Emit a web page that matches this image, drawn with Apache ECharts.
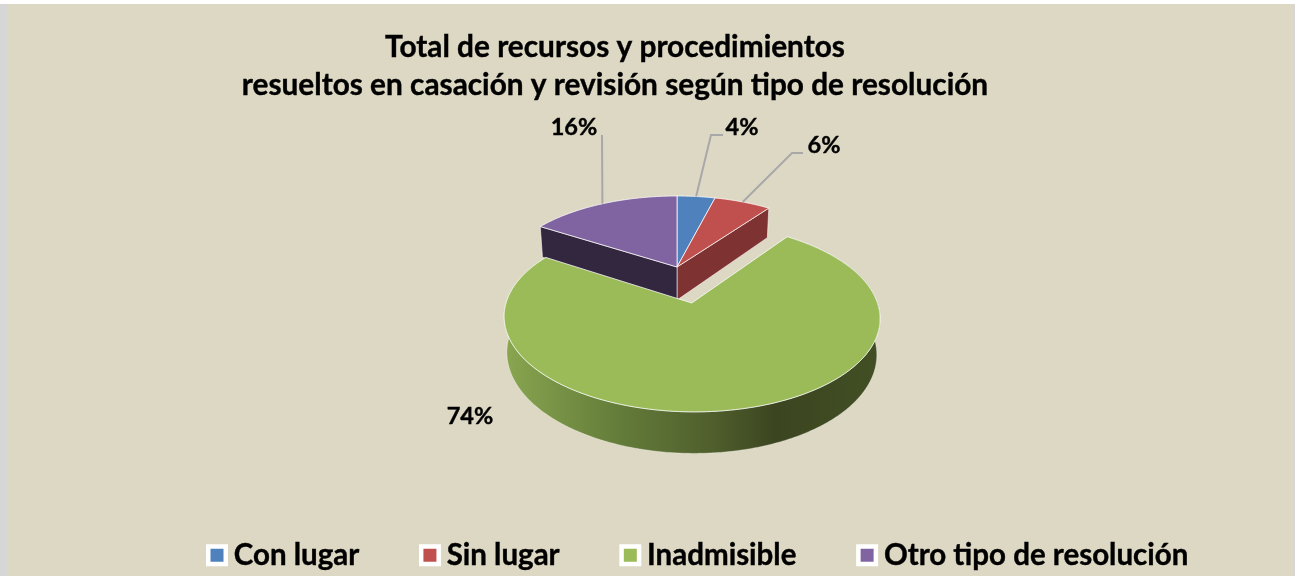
<!DOCTYPE html>
<html>
<head>
<meta charset="utf-8">
<title>Total de recursos</title>
<script src="https://cdn.jsdelivr.net/npm/echarts@6/dist/echarts.min.js"></script>
<style>
	html, body { margin: 0; padding: 0; background: #fff; overflow: hidden; }
	#panel { position: absolute; left: 0; top: 0; width: 1295px; height: 576px; background: #d6d6d6; }
	#panel div { position: absolute; left: 7px; top: 4px; width: 1286px; height: 572px; background: #ddd8c3; }
	#topline { position: absolute; left: 0; top: 0; width: 1295px; height: 4px; background: #fff; }
	#main { position: absolute; left: 0; top: 0; width: 1295px; height: 576px; }
</style>
</head>
<body>
<div id="panel"><div></div></div>
<div id="topline"></div>
<div id="main"></div>
<script>
var titleText = 'Total de recursos y procedimientos\nresueltos en casación y revisión según tipo de resolución';
var categories = ['Con lugar', 'Sin lugar', 'Inadmisible', 'Otro tipo de resolución'];
var values = [4, 6, 74, 16];

var topColors = ['#4f81bd', '#c0504d', '#9bbb59', '#8064a2'];
var wallColors = ['#2f4d71', '#7f3232', '#3f4d23', '#33263f'];
var explode = [0, 0, 0.4236, 0];

// perspective of the tilted pie
var CX = 677, CY = 267, RX = 174.5, RY = 81.3, TILT = 0.145, DEPTH = 33, BASE_SCALE = 0.984;
var FONT = 'Lato, Carlito, sans-serif';

// label centre and leader elbow for every slice, page pixels
var labelPlaces = [
	{ x: 742, y: 127, elbow: [[711, 135], [723, 135]] },
	{ x: 824, y: 145, elbow: [[792, 153], [803, 153]] },
	{ x: 470, y: 416, elbow: null },
	{ x: 574, y: 127, elbow: [[602, 135]] }
];

var total = values.reduce(function(a, b) { return a + b; }, 0);

function sliceAngles(idx) {
	var before = 0;
	for (var i = 0; i < idx; i++) {
		before += values[i];
	}
	return {
		start: before / total * Math.PI * 2,
		end: (before + values[idx]) / total * Math.PI * 2
	};
}

/**
 * ground point to page point, angle runs clockwise from the back of the pie
 */
function project(idx, angle, r, drop) {
	var a = sliceAngles(idx);
	var mid = (a.start + a.end) / 2;
	var u = explode[idx] * Math.sin(mid) + r * Math.sin(angle);
	var v = -explode[idx] * Math.cos(mid) - r * Math.cos(angle);
	var den = 1 - TILT * v;
	var scale = drop ? BASE_SCALE : 1;
	return [CX + RX * u / den * scale, CY + RY * v / den + (drop ? DEPTH / den : 0)];
}

function arcPoints(idx, drop) {
	var a = sliceAngles(idx);
	var steps = Math.max(4, Math.round((a.end - a.start) * 90));
	var pts = [];
	for (var i = 0; i <= steps; i++) {
		pts.push(project(idx, a.start + (a.end - a.start) * i / steps, 1, drop));
	}
	return pts;
}

function flatWall(idx, angle, z2) {
	return {
		type: 'polygon',
		z2: z2,
		shape: {
			points: [project(idx, 0, 0, 0), project(idx, angle, 1, 0), project(idx, angle, 1, 1), project(idx, 0, 0, 1)]
		},
		style: { fill: wallColors[idx], stroke: 'rgba(255,255,255,0.55)', lineWidth: 1 }
	};
}

function renderSlice(idx, api) {
	var value = api.value(0);
	var isFront = explode[idx] > 0;
	var a = sliceAngles(idx);
	var children = [];
	var base = isFront ? 10 : 1;

	if (isFront) {
		children.push({
			type: 'polygon',
			z2: base,
			shape: { points: arcPoints(idx, 0).concat(arcPoints(idx, 1).reverse()) },
			style: {
				fill: {
					type: 'linear', x: 0, y: 0, x2: 1, y2: 0,
					colorStops: [
						{ offset: 0, color: '#89a650' },
						{ offset: 0.3, color: '#647d3a' },
						{ offset: 0.55, color: '#505f2d' },
						{ offset: 0.72, color: '#3b4520' },
						{ offset: 1, color: '#424f24' }
					]
				},
				stroke: 'rgba(255,255,255,0.35)',
				lineWidth: 1
			}
		});
	} else if (idx === 1) {
		// the two walls facing the gap
		children.push(flatWall(idx, a.end, base));
	} else if (idx === 3) {
		children.push(flatWall(idx, a.start, base));
	}

	children.push({
		type: 'polygon',
		z2: base + 1,
		shape: { points: [project(idx, 0, 0, 0)].concat(arcPoints(idx, 0)) },
		style: { fill: topColors[idx], stroke: 'rgba(255,255,255,0.75)', lineWidth: 1 }
	});

	var place = labelPlaces[idx];
	if (place.elbow) {
		var mid = (a.start + a.end) / 2;
		children.push({
			type: 'polyline',
			z2: 20,
			shape: { points: [project(idx, mid, 1, 0)].concat(place.elbow) },
			style: { fill: null, stroke: '#a8a8a8', lineWidth: 2 }
		});
	}
	children.push({
		type: 'text',
		z2: 21,
		style: {
			x: place.x,
			y: place.y,
			text: value + '%',
			fill: '#000',
			stroke: '#000',
			lineWidth: 0.4,
			font: '700 23.5px ' + FONT,
			align: 'center',
			verticalAlign: 'middle'
		}
	});
	return { type: 'group', children: children };
}

var option = {
	animation: false,
	title: {
		text: titleText,
		left: 610,
		top: 23,
		textAlign: 'center',
		textStyle: {
			color: '#000',
			fontFamily: FONT,
			fontWeight: 700,
			fontSize: 29.8,
			lineHeight: 38,
			textBorderColor: '#000',
			textBorderWidth: 0.4
		}
	},
	legend: {
		data: categories,
		left: 206,
		top: 540,
		padding: 0,
		icon: 'rect',
		itemWidth: 17.5,
		itemHeight: 17.5,
		itemGap: 59.5,
		selectedMode: false,
		itemStyle: { borderColor: '#fff', borderWidth: 4.5 },
		textStyle: {
			color: '#000',
			fontFamily: FONT,
			fontWeight: 700,
			fontSize: 29.5,
			padding: [0, 0, 0, 3],
			textBorderColor: '#000',
			textBorderWidth: 0.4
		}
	},
	series: categories.map(function(name, i) {
		return {
			type: 'custom',
			name: name,
			coordinateSystem: 'none',
			silent: true,
			itemStyle: { color: topColors[i] },
			data: [values[i]],
			renderItem: function(params, api) {
				return renderSlice(i, api);
			}
		};
	})
};

var myChart = echarts.init(document.getElementById('main'));
myChart.setOption(option);
</script>
</body>
</html>
